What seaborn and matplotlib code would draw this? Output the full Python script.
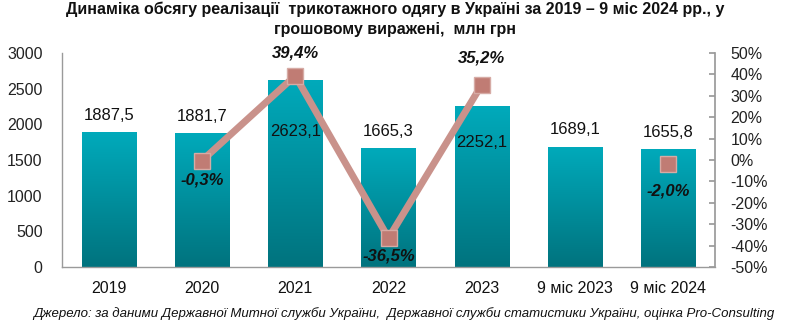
import numpy as np
import pandas as pd
import matplotlib
matplotlib.use("Agg")
import matplotlib.pyplot as plt
from matplotlib import font_manager
from matplotlib.colors import LinearSegmentedColormap
import seaborn as sns

categories = ["2019", "2020", "2021", "2022", "2023", "9 міс 2023", "9 міс 2024"]
sales = [1887.5, 1881.7, 2623.1, 1665.3, 2252.1, 1689.1, 1655.8]
growth = [np.nan, -0.3, 39.4, -36.5, 35.2, np.nan, -2.0]
title = "Динаміка обсягу реалізації  трикотажного одягу в Україні за 2019 – 9 міс 2024 рр., у\nгрошовому виражені,  млн грн"
source = "Джерело: за даними Державної Митної служби України,  Державної служби статистики України, оцінка Pro-Consulting"

sns.set_theme(style="white")
installed = {f.name for f in font_manager.fontManager.ttflist}
narrow = "Liberation Sans Narrow" if "Liberation Sans Narrow" in installed else "Liberation Sans"
plt.rcParams["font.family"] = ["Liberation Sans", "DejaVu Sans"]

fig = plt.figure(figsize=(7.87, 3.27), dpi=100)
ax = fig.add_axes([62/787, 60/327, 653/787, 214/327])
df = pd.DataFrame({"cat": categories, "val": sales})
sns.barplot(data=df, x="cat", y="val", ax=ax, color="#00A0B0", width=0.58,
            saturation=1, edgecolor="none")

# gradient fill per bar
cmap = LinearSegmentedColormap.from_list("g", ["#00737E", "#00AABB"])
grad = np.linspace(0, 1, 256).reshape(-1, 1)
for p in ax.patches:
    x0, y0 = p.get_x(), p.get_y()
    w, h = p.get_width(), p.get_height()
    im = ax.imshow(grad, cmap=cmap, origin="lower", aspect="auto",
                   extent=[x0, x0 + w, y0, y0 + h], zorder=2)
    im.set_clip_path(p)
    p.set_facecolor("none")

ax.set_xlim(-0.5, 6.5)
ax.set_ylim(0, 3000)
ax.set_yticks(range(0, 3001, 500))
ax.set_xlabel("")
ax.set_ylabel("")
ax.tick_params(axis="y", labelsize=11.5, length=0, pad=14, colors="#222222")
ax.tick_params(axis="x", length=0, pad=10)
for lab in ax.get_xticklabels():
    lab.set_fontfamily(narrow)
    lab.set_fontsize(11.5)
    lab.set_color("#111111")
for s in ["top", "right"]:
    ax.spines[s].set_visible(False)
for s in ["left", "bottom"]:
    ax.spines[s].set_color("#9A9A9A")
    ax.spines[s].set_linewidth(1)

label_offsets = [12, 12, -37, 12, -26, 12, 12]
for i, (v, off) in enumerate(zip(sales, label_offsets)):
    ax.annotate(f"{v:.1f}".replace(".", ","), (i, v), xytext=(0, off),
                textcoords="offset points", ha="center", va="center",
                fontsize=12, color="#111111", zorder=5)

ax2 = ax.twinx()
ax2.set_ylim(-50, 50)
ax2.set_yticks(range(-50, 51, 10))
ax2.set_yticklabels([f"{t}%" for t in range(-50, 51, 10)])
ax2.tick_params(axis="y", labelsize=11.5, direction="in", length=4, pad=11,
                colors="#222222")
ax2.tick_params(axis="y", color="#9A9A9A")
for s in ["top", "left", "bottom"]:
    ax2.spines[s].set_visible(False)
ax2.spines["right"].set_color("#9A9A9A")
ax2.grid(False)
xs = np.arange(len(categories))
ax2.plot(xs, growth, color="#C9928B", lw=5, marker="s", markersize=12,
         markerfacecolor="#C07C74", markeredgecolor="#D6ABA5",
         markeredgewidth=1, zorder=4, solid_joinstyle="miter")

pct_offsets = [0, -14, 16, -13, 19, 0, -19]
for i, (g, off) in enumerate(zip(growth, pct_offsets)):
    if np.isnan(g):
        continue
    ax2.annotate(f"{g:.1f}%".replace(".", ","), (i, g), xytext=(0, off),
                 textcoords="offset points", ha="center", va="center",
                 fontsize=12, fontweight="bold", fontstyle="italic",
                 color="#111111", zorder=6)

fig.text(0.502, 0.995, title, ha="center", va="top", fontsize=11.5,
         fontweight="bold", family=[narrow, "DejaVu Sans"], color="#111111",
         linespacing=1.4)
fig.text(0.513, 0.04, source, ha="center", va="center", fontsize=9.5,
         fontstyle="italic", family=[narrow, "DejaVu Sans"], color="#111111")

fig.savefig("out.png", dpi=100)
